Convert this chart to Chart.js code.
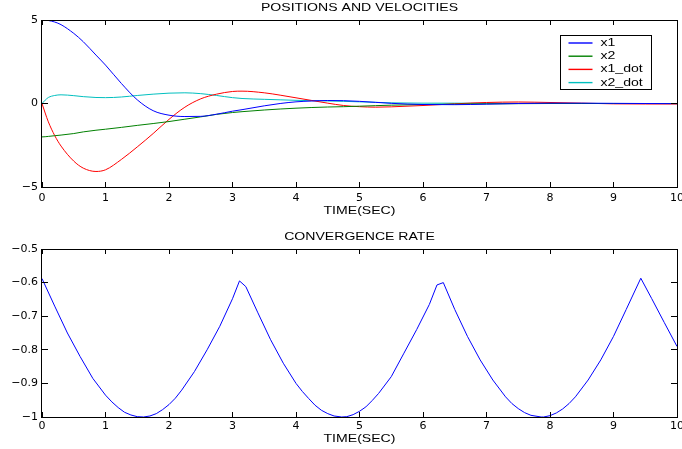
<!DOCTYPE html>
<html>
<head>
<meta charset="utf-8">
<script src="https://cdn.jsdelivr.net/npm/chart.js@4.4.1/dist/chart.umd.min.js"></script>
<style>
  body { margin: 0; background: #fff; }
  .box { position: absolute; left: 0; width: 682px; }
  #top { top: 0; height: 224px; }
  #bottom { top: 224px; height: 225px; }
</style>
</head>
<body>
<div class="box" id="top"><canvas id="stateChart"></canvas></div>
<div class="box" id="bottom"><canvas id="rateChart"></canvas></div>
<script>
// time samples (sec) for the states plot
const time = [0, 0.05, 0.1, 0.2, 0.3, 0.5, 0.65, 0.85, 1.0, 1.25, 1.5, 1.75, 2.0, 2.25, 2.5, 2.75, 3.0, 3.15,
  3.5, 3.75, 4.0, 4.25, 4.5, 4.75, 5.0, 5.25, 5.5, 6.0, 6.5, 7.0, 7.5, 8.0, 8.5, 9.0, 9.5, 10.0];
const x1 = [5.0, 4.99, 4.97, 4.88, 4.72, 4.2, 3.7, 2.9, 2.3, 1.2, 0.22, -0.43, -0.7, -0.78, -0.77, -0.64, -0.46, -0.37,
  -0.14, 0.0, 0.1, 0.15, 0.18, 0.17, 0.13, 0.07, 0.01, -0.06, -0.07, -0.04, 0.0, 0.02, 0.02, 0.01, 0.0, -0.01];
const x2 = [-2.0, -1.99, -1.97, -1.93, -1.89, -1.8, -1.7, -1.6, -1.54, -1.43, -1.31, -1.2, -1.08, -0.94, -0.8, -0.65, -0.54, -0.49,
  -0.39, -0.33, -0.28, -0.24, -0.21, -0.19, -0.16, -0.13, -0.1, -0.06, -0.04, -0.02, -0.01, 0.0, 0.0, 0.0, 0.0, 0.0];
const x1Dot = [0, -0.57, -1.1, -1.92, -2.55, -3.45, -3.87, -4.07, -3.97, -3.35, -2.6, -1.8, -0.95, -0.22, 0.28, 0.56, 0.72, 0.74,
  0.64, 0.5, 0.34, 0.18, 0.02, -0.12, -0.19, -0.22, -0.2, -0.12, -0.02, 0.06, 0.09, 0.06, 0.02, -0.02, -0.03, -0.03];
const x2Dot = [0, 0.2, 0.36, 0.48, 0.52, 0.47, 0.41, 0.36, 0.35, 0.39, 0.48, 0.56, 0.62, 0.64, 0.59, 0.48, 0.35, 0.3,
  0.25, 0.22, 0.19, 0.17, 0.15, 0.13, 0.1, 0.07, 0.04, 0.02, 0.02, 0.01, 0.01, 0.0, 0.0, 0.0, 0.0, 0.0];
const seriesNames = ['x1', 'x2', 'x1_dot', 'x2_dot'];

// convergence rate
const rateTime = [0, 0.2, 0.4, 0.6, 0.8, 1.0, 1.1, 1.2, 1.3, 1.4, 1.5, 1.6, 1.7, 1.8, 1.9, 2.0, 2.1, 2.2,
  2.4, 2.6, 2.8, 3.0, 3.11, 3.21, 3.4, 3.6, 3.8, 4.0, 4.1, 4.2, 4.3, 4.4, 4.5, 4.6, 4.72,
  4.8, 4.9, 5.0, 5.1, 5.2, 5.3, 5.5, 5.7, 5.9, 6.1, 6.22, 6.32, 6.5, 6.7, 6.9, 7.1,
  7.3, 7.4, 7.5, 7.6, 7.7, 7.86, 7.9, 8.0, 8.1, 8.2, 8.3, 8.4, 8.6, 8.8, 9.0, 9.2, 9.43, 9.6, 9.8, 10.0];
const rate = [-0.588, -0.67, -0.75, -0.82, -0.885, -0.935, -0.955, -0.972, -0.986, -0.994, -0.999, -1.0, -0.997, -0.99, -0.978, -0.963, -0.944, -0.92,
  -0.865, -0.8, -0.73, -0.648, -0.595, -0.612, -0.69, -0.77, -0.84, -0.9, -0.924, -0.945, -0.965, -0.98, -0.99, -0.997, -1.0,
  -0.999, -0.993, -0.983, -0.97, -0.951, -0.93, -0.88, -0.81, -0.74, -0.665, -0.607, -0.6, -0.68, -0.76, -0.83, -0.89,
  -0.94, -0.96, -0.975, -0.987, -0.995, -1.0, -1.0, -0.996, -0.988, -0.976, -0.96, -0.94, -0.89, -0.83, -0.76, -0.68, -0.587, -0.647, -0.719, -0.79];

const xTicks = [0, 1, 2, 3, 4, 5, 6, 7, 8, 9, 10];
const stateTicks = [-5, 0, 5];
const rateTicks = [-1, -0.9, -0.8, -0.7, -0.6, -0.5];

const tickFont = { family: 'DejaVu Sans', size: 11 };
const textFont = '11px "Liberation Sans", Arial, sans-serif';
const STRETCH = 1.28;

function fmt(v) {
  const r = Math.round(v * 10) / 10;
  return (r < 0 ? '\u2212' : '') + Math.abs(r);
}

function stretchedText(ctx, text, x, y, align) {
  ctx.save();
  ctx.translate(x, y);
  ctx.scale(STRETCH, 1);
  ctx.textAlign = align;
  ctx.textBaseline = 'middle';
  ctx.fillText(text, 0, 0);
  ctx.restore();
}

// box, inward ticks and texts, matlab style
const framePlugin = {
  id: 'frame',
  afterDraw(chart, args, opts) {
    const { ctx, chartArea: a } = chart;
    const xs = chart.scales.x, ys = chart.scales.y;
    ctx.save();
    ctx.strokeStyle = '#000';
    ctx.lineWidth = 1;
    ctx.beginPath();
    xs.ticks.forEach(t => {
      const px = Math.floor(xs.getPixelForValue(t.value)) + 0.5;
      ctx.moveTo(px, a.bottom); ctx.lineTo(px, a.bottom - 5);
      ctx.moveTo(px, a.top); ctx.lineTo(px, a.top + 5);
    });
    ys.ticks.forEach(t => {
      const py = Math.floor(ys.getPixelForValue(t.value)) + 0.5;
      ctx.moveTo(a.left, py); ctx.lineTo(a.left + 6, py);
      ctx.moveTo(a.right, py); ctx.lineTo(a.right - 6, py);
    });
    ctx.stroke();
    ctx.strokeRect(a.left - 0.5, a.top + 0.5, a.width + 1, a.height);

    ctx.fillStyle = '#000';
    ctx.font = textFont;
    const cx = (a.left + a.right) / 2;
    stretchedText(ctx, opts.title, cx, opts.titleY, 'center');
    stretchedText(ctx, 'TIME(SEC)', cx, a.bottom + opts.xTitleGap, 'center');

    if (opts.legend) {
      const w = 91, h = 54;
      const bx = a.right - 26 - w + 0.5, by = a.top + 15 + 0.5;
      ctx.fillStyle = '#fff';
      ctx.fillRect(bx, by, w, h);
      ctx.strokeStyle = '#000';
      ctx.strokeRect(bx, by, w, h);
      chart.data.datasets.forEach((ds, i) => {
        const ly = by + 7.5 + i * 13.2;
        ctx.strokeStyle = ds.borderColor;
        ctx.lineWidth = 1.4;
        ctx.beginPath();
        ctx.moveTo(bx + 8, ly);
        ctx.lineTo(bx + 32, ly);
        ctx.stroke();
        ctx.fillStyle = '#000';
        stretchedText(ctx, ds.label, bx + 40, ly, 'left');
      });
    }
    ctx.restore();
  }
};

function axes(yTicks, yMin, yMax, xHeight, xPad) {
  return {
    x: {
      type: 'linear', min: 0, max: 10,
      grid: { display: false, drawTicks: false },
      border: { display: false },
      afterBuildTicks: s => { s.ticks = xTicks.map(v => ({ value: v })); },
      afterFit: s => { s.height = xHeight; s.paddingLeft = 0; s.paddingRight = 0; },
      ticks: { color: '#000', font: tickFont, padding: xPad, maxRotation: 0, autoSkip: false, callback: fmt }
    },
    y: {
      type: 'linear', min: yMin, max: yMax,
      grid: { display: false, drawTicks: false },
      border: { display: false },
      afterBuildTicks: s => { s.ticks = yTicks.map(v => ({ value: v })); },
      afterFit: s => { s.width = 42; s.paddingTop = 0; s.paddingBottom = 0; },
      ticks: { color: '#000', font: tickFont, padding: 4, autoSkip: false, callback: fmt }
    }
  };
}

function pts(t, v) { return t.map((tt, i) => ({ x: tt, y: v[i] })); }

const colors = ['#0000ff', '#008000', '#ff0000', '#00bfbf'];
const stateData = [x1, x2, x1Dot, x2Dot];

new Chart(document.getElementById('stateChart'), {
  type: 'line',
  data: {
    datasets: stateData.map((v, i) => ({
      label: seriesNames[i],
      data: pts(time, v),
      borderColor: colors[i],
      borderWidth: 1,
      pointRadius: 0,
      cubicInterpolationMode: 'monotone'
    }))
  },
  options: {
    responsive: true,
    maintainAspectRatio: false,
    animation: false,
    layout: { padding: { top: 20, right: 5, left: 0, bottom: 0 } },
    scales: axes(stateTicks, -5, 5, 37, 5),
    plugins: {
      legend: { display: false },
      tooltip: { enabled: false },
      frame: { title: 'POSITIONS AND VELOCITIES', titleY: 8, xTitleGap: 24, legend: true }
    }
  },
  plugins: [framePlugin]
});

new Chart(document.getElementById('rateChart'), {
  type: 'line',
  data: {
    datasets: [{
      label: 'rate',
      data: pts(rateTime, rate),
      borderColor: '#0000ff',
      borderWidth: 1,
      pointRadius: 0,
      tension: 0
    }]
  },
  options: {
    responsive: true,
    maintainAspectRatio: false,
    animation: false,
    layout: { padding: { top: 25, right: 5, left: 0, bottom: 0 } },
    scales: axes(rateTicks, -1, -0.5, 32, 3),
    plugins: {
      legend: { display: false },
      tooltip: { enabled: false },
      frame: { title: 'CONVERGENCE RATE', titleY: 13, xTitleGap: 22, legend: false }
    }
  },
  plugins: [framePlugin]
});
</script>
</body>
</html>
